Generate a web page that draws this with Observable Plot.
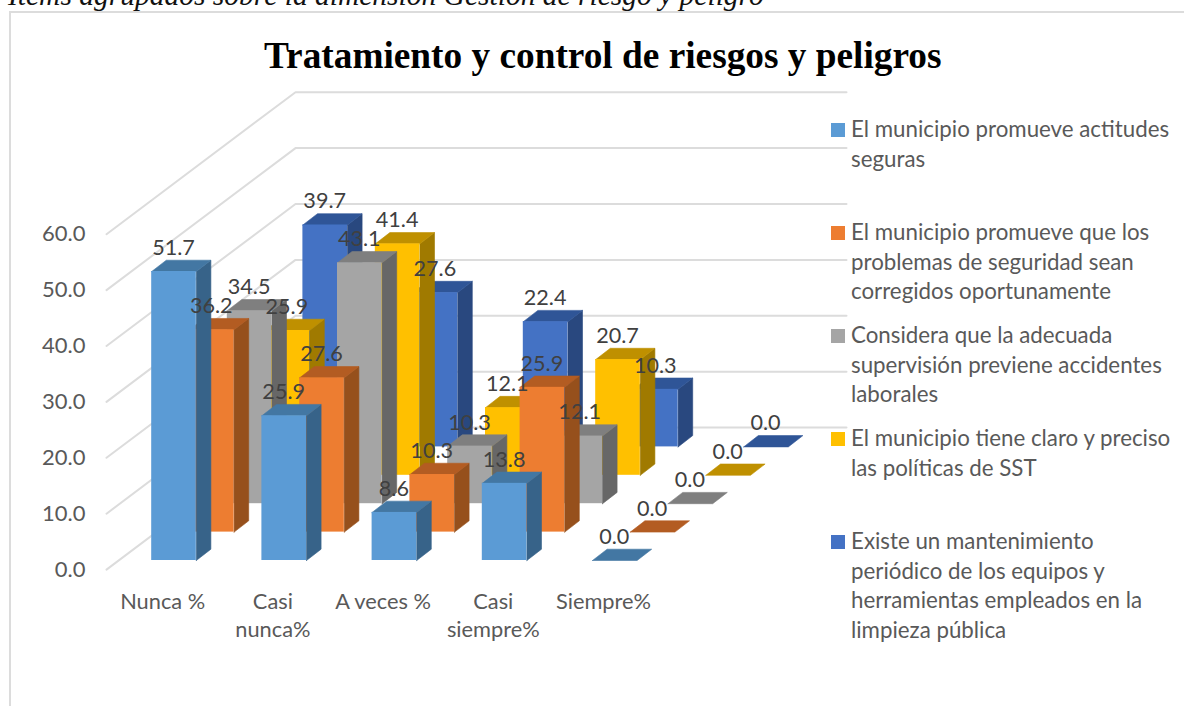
<!DOCTYPE html>
<html lang="es">
<head>
<meta charset="utf-8">
<script src="https://cdn.jsdelivr.net/npm/d3@7"></script>
<script src="https://cdn.jsdelivr.net/npm/@observablehq/plot@0.6"></script>
<style>
  html, body { margin: 0; padding: 0; background: #fff; overflow: hidden; }
  #page { position: relative; width: 1184px; height: 706px; overflow: hidden; }
  #frame { position: absolute; left: 9px; top: 11px; width: 1300px; height: 800px; border: 2px solid #dcdcdc; box-sizing: border-box; }
  #header { position: absolute; left: 8px; top: -21px; font: italic 29.5px "Liberation Serif", serif; color: #111; white-space: nowrap; }
  #title { position: absolute; left: 264px; top: 33.5px; font: bold 37.3px "Liberation Serif", serif; color: #000; white-space: nowrap; }
  #chart { position: absolute; left: 0; top: 0; }
  .legend-line { position: absolute; left: 851px; font: 22.3px Lato, sans-serif; color: #595959; white-space: nowrap; line-height: 28px; background: transparent; }
  .legend-key { position: absolute; left: 831px; width: 14px; height: 14px; }
</style>
</head>
<body>
<div id="page">
  <div id="frame"></div>
  <div id="header">Ítems agrupados sobre la dimensión Gestión de riesgo y peligro</div>
  <div id="chart"></div>
  <div id="title">Tratamiento y control de riesgos y peligros</div>
</div>
<script>
const categories = ["Nunca %", "Casi\nnunca%", "A veces %", "Casi\nsiempre%", "Siempre%"];
const seriesNames = [
  ["El municipio promueve actitudes", "seguras"],
  ["El municipio promueve que los", "problemas de seguridad sean", "corregidos oportunamente"],
  ["Considera que la adecuada", "supervisión previene accidentes", "laborales"],
  ["El municipio tiene claro y preciso", "las políticas de SST"],
  ["Existe un mantenimiento", "periódico de los equipos y", "herramientas empleados en la", "limpieza pública"]
];
const actitudes = [51.7, 25.9, 8.6, 13.8, 0.0];
const problemas = [36.2, 27.6, 10.3, 25.9, 0.0];
const supervision = [34.5, 43.1, 10.3, 12.1, 0.0];
const politicas = [25.9, 41.4, 12.1, 20.7, 0.0];
const mantenimiento = [39.7, 27.6, 22.4, 10.3, 0.0];
const allSeries = [actitudes, problemas, supervision, politicas, mantenimiento];
const frontColors = ["#5B9BD5", "#ED7D31", "#A5A5A5", "#FFC000", "#4472C4"];
const sideColors = ["#376389", "#96501C", "#676767", "#A07A00", "#29487F"];
const topColors = ["#4377A3", "#B35C22", "#7F7F7F", "#BF9000", "#2F5597"];
const yTicks = [0, 10, 20, 30, 40, 50, 60];

// Oblique projection expressed in scale units: x = category steps, y = value units
const pxPerCat = 110.2, pxPerVal = 5.59, left = 85, x0 = 151.2, y0 = 560;
const barW = 44.6 / pxPerCat;
const stepX = 37.8 / pxPerCat, stepY = 28.4 / pxPerVal;
const sideX = 14.6 / pxPerCat, sideY = 11.3 / pxPerVal;
const wallFrontS = -0.32, wallBackS = 4.68, wallOriginX = (118.1 - x0) / pxPerCat, wallRightX = (846 - x0) / pxPerCat;

const gridRows = yTicks.flatMap(v => {
  const base = [
    {x: wallOriginX + wallFrontS * stepX, y: v + wallFrontS * stepY},
    {x: wallOriginX + wallBackS * stepX, y: v + wallBackS * stepY},
    {x: wallRightX, y: v + wallBackS * stepY}
  ];
  return base.map(p => ({...p, v}));
});

const barMarks = d3.range(allSeries.length - 1, -1, -1).flatMap(s => {
  const bars = allSeries[s].map((v, i) => ({
    v, i,
    xl: i + s * stepX,
    xr: i + s * stepX + barW,
    yb: s * stepY,
    yt: s * stepY + v
  }));
  const side = bars.filter(b => b.v > 0).flatMap(b => [
    {id: b.i, x: b.xr, y: b.yb},
    {id: b.i, x: b.xr + sideX, y: b.yb + sideY},
    {id: b.i, x: b.xr + sideX, y: b.yt + sideY},
    {id: b.i, x: b.xr, y: b.yt},
    {id: b.i, x: b.xr, y: b.yb}
  ]);
  const top = bars.flatMap(b => [
    {id: b.i, x: b.xl, y: b.yt},
    {id: b.i, x: b.xr, y: b.yt},
    {id: b.i, x: b.xr + sideX, y: b.yt + sideY},
    {id: b.i, x: b.xl + sideX, y: b.yt + sideY},
    {id: b.i, x: b.xl, y: b.yt}
  ]);
  return [
    Plot.line(side, {x: "x", y: "y", z: "id", fill: sideColors[s], stroke: sideColors[s], strokeWidth: 0.6, curve: "linear"}),
    Plot.line(top, {x: "x", y: "y", z: "id", fill: topColors[s], stroke: topColors[s], strokeWidth: 0.6, curve: "linear"}),
    Plot.rect(bars.filter(b => b.v > 0), {x1: "xl", x2: "xr", y1: "yb", y2: "yt", fill: frontColors[s]})
  ];
});

const labelRows = allSeries.flatMap((vals, s) => vals.map((v, i) => ({
  x: i + s * stepX + barW / 2,
  y: s * stepY + v,
  text: v.toFixed(1)
})));

const chart = Plot.plot({
  width: 1184,
  height: 706,
  marginLeft: left,
  marginRight: 0,
  marginTop: 0,
  marginBottom: 0,
  style: {background: "transparent", fontFamily: "Lato, sans-serif", overflow: "visible"},
  x: {domain: [(left - x0) / pxPerCat, (1184 - x0) / pxPerCat]},
  y: {domain: [(y0 - 706) / pxPerVal, y0 / pxPerVal]},
  marks: [
    Plot.line(gridRows, {x: "x", y: "y", z: "v", stroke: "#dcdcdc", strokeWidth: 2, curve: "linear"}),
    ...barMarks,
    Plot.text(labelRows, {x: "x", y: "y", text: "text", dx: -0.5, dy: -23.5, fontSize: 21.6, fill: "#404040"}),
    Plot.axisY({ticks: yTicks, tickFormat: d => d.toFixed(1), tickSize: 0, tickPadding: 0, dy: 9, label: null, fontSize: 22, fill: "#595959"}),
    Plot.axisX({ticks: d3.range(categories.length), tickFormat: i => categories[i], tickSize: 0, tickPadding: 0, dy: -118, dx: 11, label: null, fontSize: 21.8, lineHeight: 1.31, fill: "#595959"})
  ]
});
document.getElementById("chart").append(chart);

// Legend
const page = document.getElementById("page");
const legendTops = [130, 233, 336, 439, 542];
seriesNames.forEach((lines, s) => {
  const key = document.createElement("div");
  key.className = "legend-key";
  key.style.background = frontColors[s];
  key.style.top = (legendTops[s] - 7) + "px";
  page.append(key);
  lines.forEach((t, j) => {
    const el = document.createElement("div");
    el.className = "legend-line";
    el.textContent = t;
    el.style.top = (legendTops[s] + j * 29.5 - 15) + "px";
    page.append(el);
  });
});
</script>
</body>
</html>
